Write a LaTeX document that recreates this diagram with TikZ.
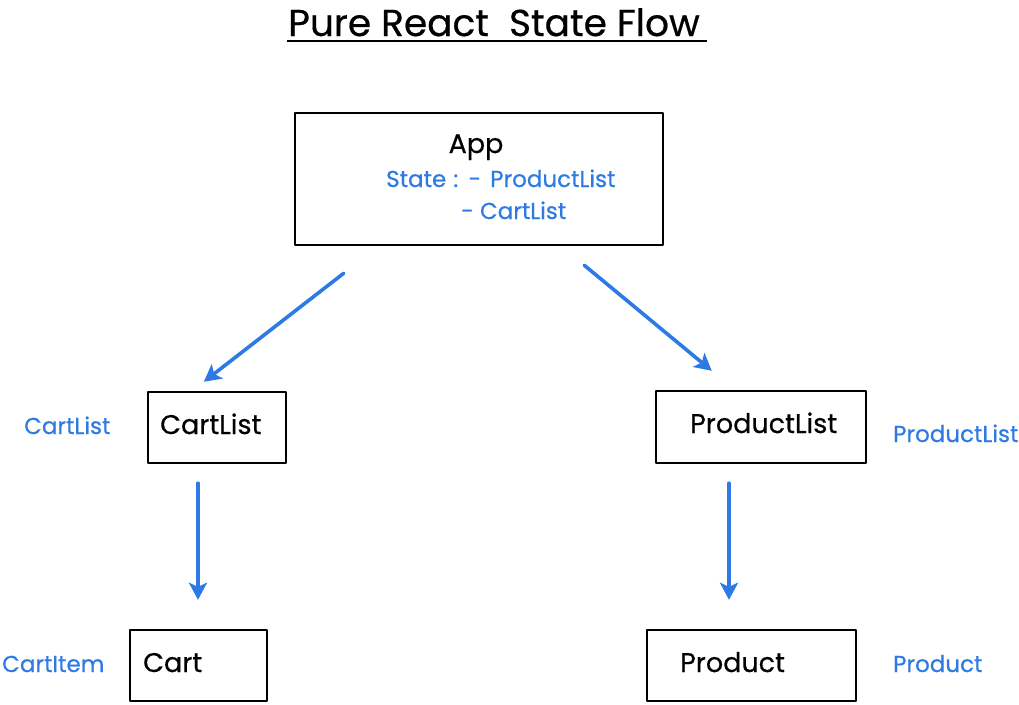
\documentclass[tikz,border=0pt]{standalone}
\usepackage{fontspec}
\setmainfont{Poppins}[UprightFeatures={FakeBold=0.5}]
\usetikzlibrary{arrows.meta}
\definecolor{flowblue}{RGB}{45,122,228}
\tikzset{
	box/.style={draw, line width=2.4pt, minimum width=#1, inner sep=0pt},
	boxtxt/.style={anchor=base west, inner sep=0pt, font=\fontsize{27}{31}\selectfont},
	note/.style={anchor=base west, inner sep=0pt, text=flowblue, font=\fontsize{23}{27}\selectfont},
	flow/.style={draw=flowblue, line width=3.6pt, line cap=round, -{Stealth[length=17pt,width=18pt,inset=4pt]}}
}
\begin{document}
\begin{tikzpicture}[x=1pt, y=-1pt, line join=round]
	\useasboundingbox (0,0) rectangle (1019,704);
	% title
	\node[anchor=base west, inner sep=0pt, font=\fontsize{37.5}{42}\selectfont] (title) at (288,36) {Pure React\ \ State Flow};
	\draw[line width=2.6pt] (287,41) -- (707,41);
	% boxes
	\node[box=368pt, minimum height=132pt] (app) at (479,179) {};
	\node[box=138pt, minimum height=71pt] (cartlist) at (217,427.5) {};
	\node[box=210pt, minimum height=72pt] (productlist) at (761,427) {};
	\node[box=137pt, minimum height=71pt] (cart) at (198.5,665.5) {};
	\node[box=209pt, minimum height=71pt] (product) at (751.5,665.5) {};
	% texts
	\node[boxtxt, anchor=base] (apptxt) at (476,153) {App};
	\node[note] (state1) at (386,187) {State\hspace{1pt} :\hspace{2pt} -\hspace{3pt} ProductList};
	\node[note] (state2) at (461,219) {- CartList};
	\node[boxtxt] (cartlisttxt) at (160,434) {CartList};
	\node[boxtxt] (productlisttxt) at (690,433) {ProductList};
	\node[boxtxt] (carttxt) at (143,672) {Cart};
	\node[boxtxt] (producttxt) at (680,672) {Product};
	\node[note] (cartlistnote) at (24,434) {CartList};
	\node[note] (productlistnote) at (893,442) {ProductList};
	\node[note] (cartitemnote) at (2,672) {CartItem};
	\node[note] (productnote) at (893,672) {Product};
	% arrows
	\draw[flow] ([xshift=50pt, yshift=-27pt]app.south west) -- ([xshift=57pt, yshift=9pt]cartlist.north west);
	\draw[flow] ([xshift=-80pt, yshift=-19pt]app.south east) -- ([xshift=57pt, yshift=19pt]productlist.north west);
	\draw[flow] ([xshift=-19pt, yshift=-19pt]cartlist.south) -- ([xshift=-0.5pt, yshift=29pt]cart.north);
	\draw[flow] ([xshift=-32pt, yshift=-19pt]productlist.south) -- ([xshift=-22.5pt, yshift=29pt]product.north);
\end{tikzpicture}
\end{document}
